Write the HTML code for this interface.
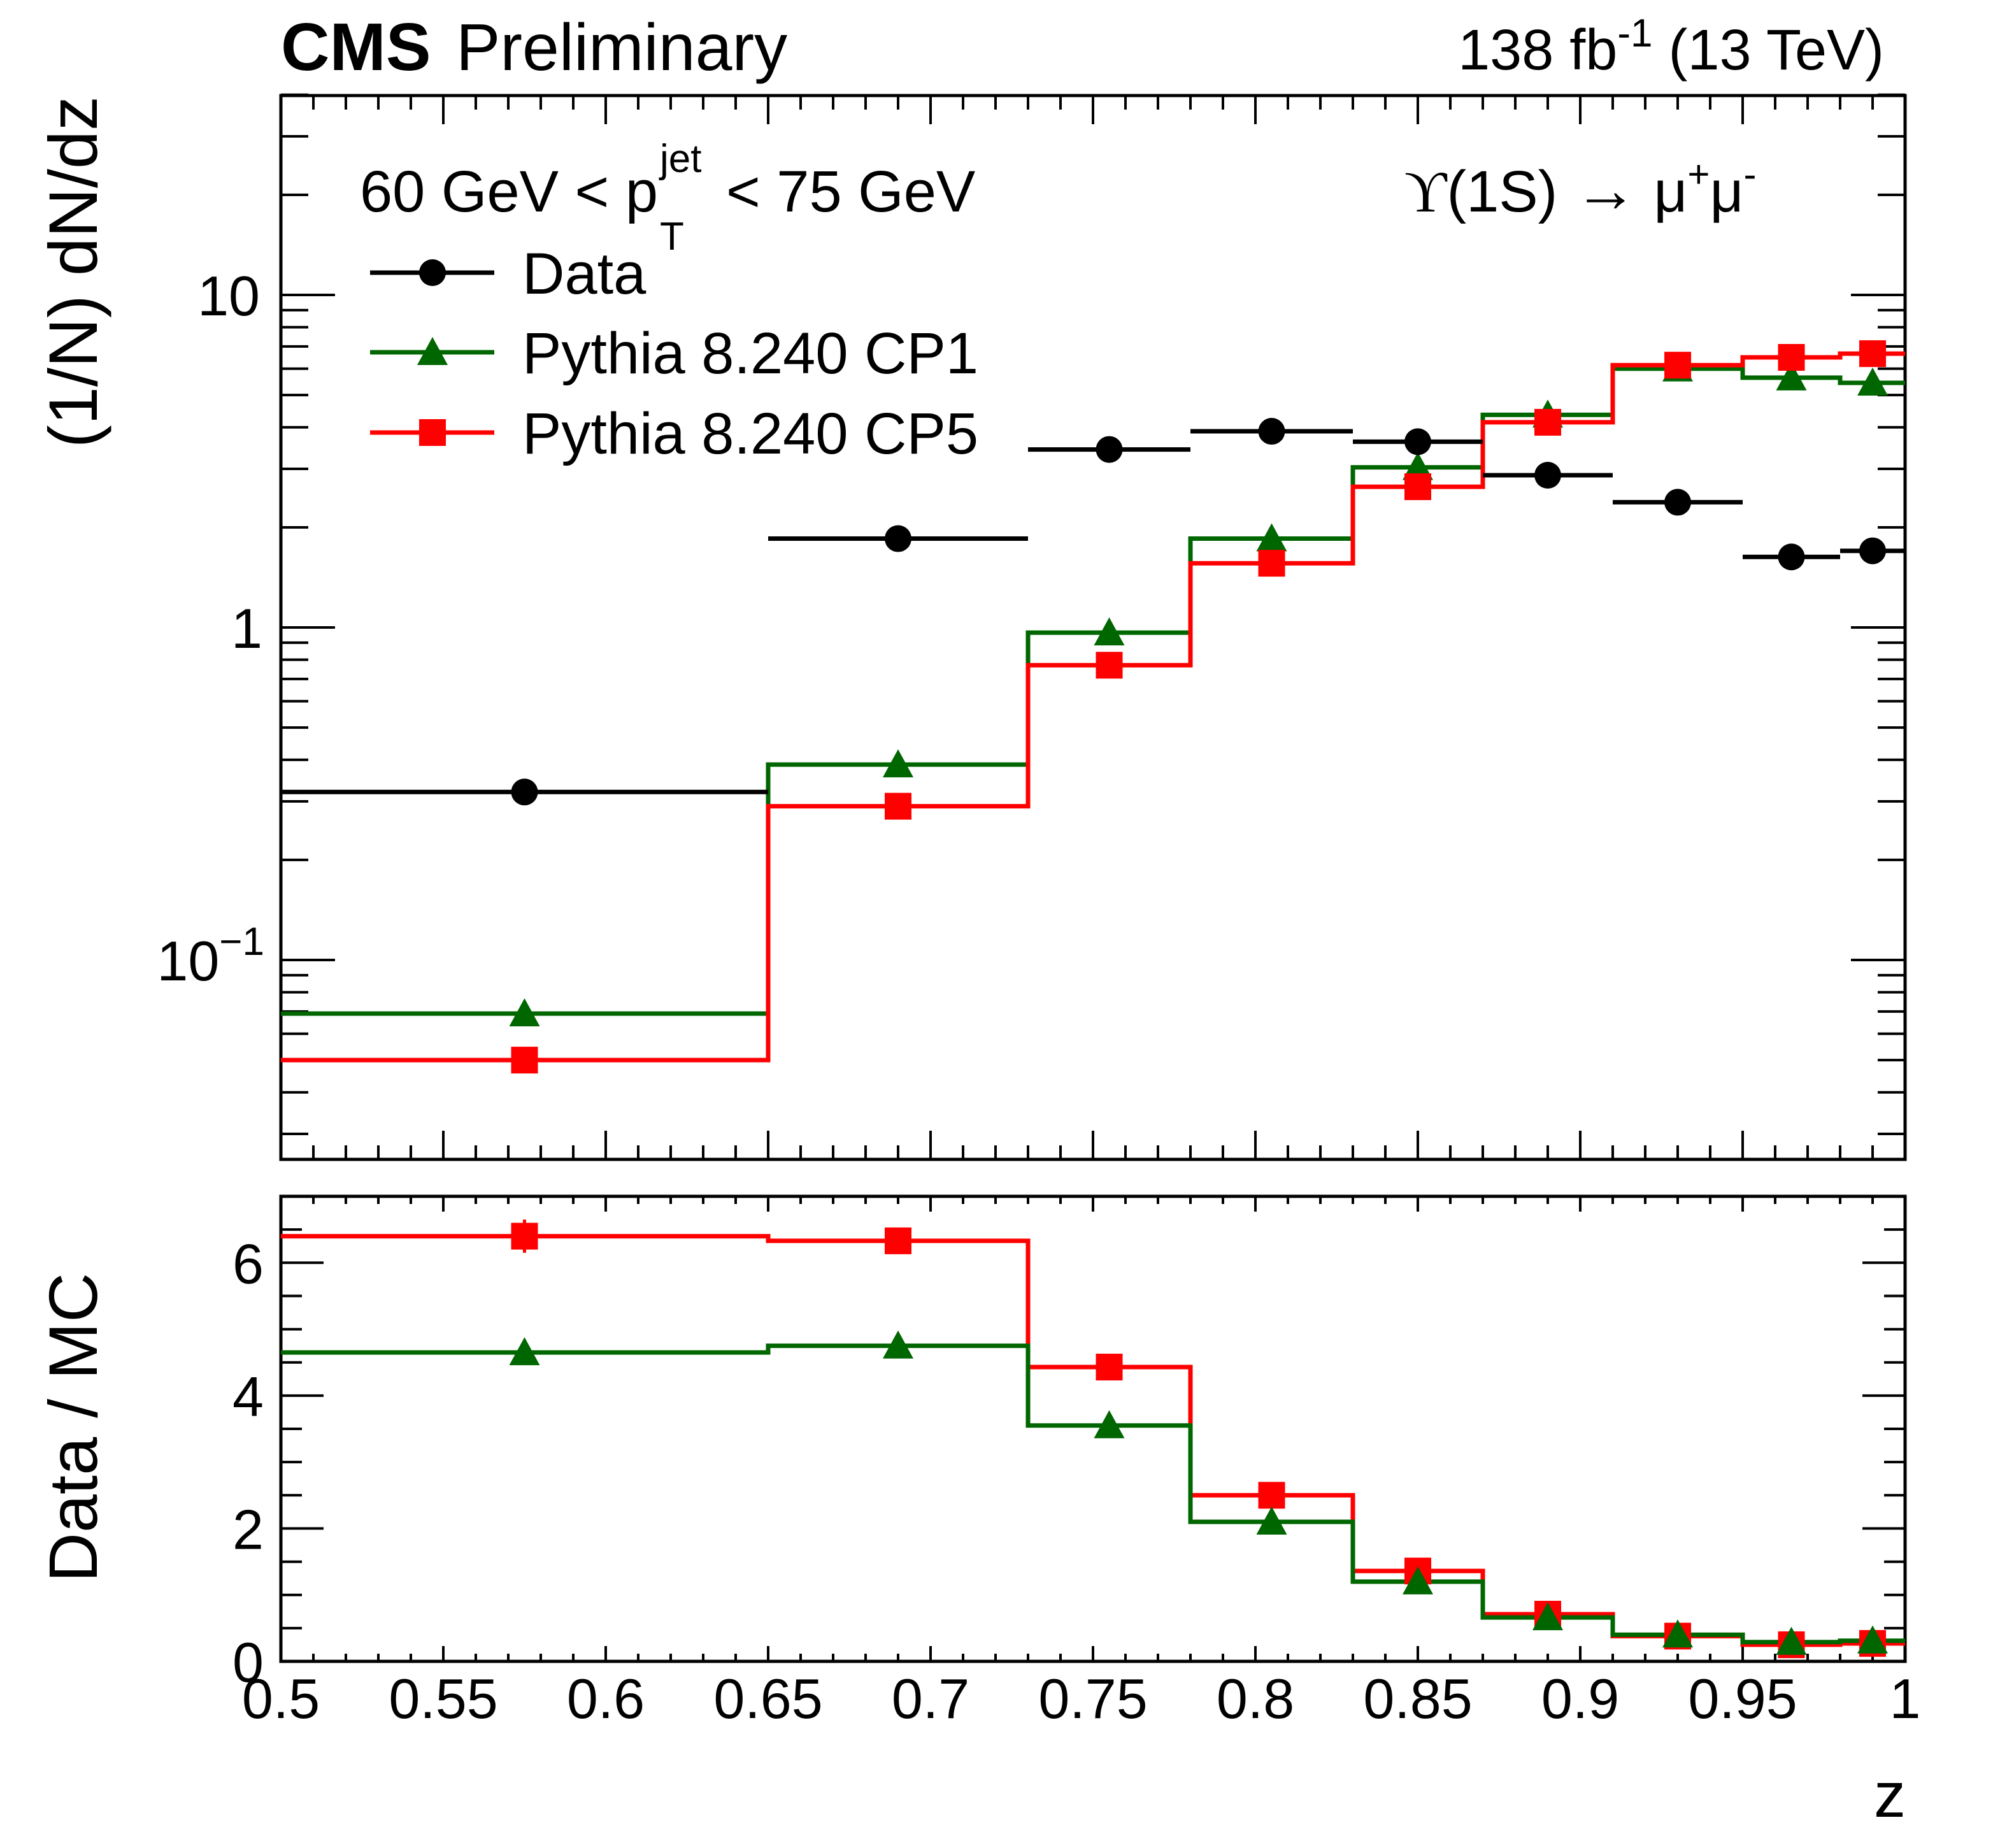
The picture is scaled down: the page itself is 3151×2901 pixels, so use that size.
<!DOCTYPE html>
<html>
<head>
<meta charset="utf-8">
<style>
html,body{margin:0;padding:0;background:#fff;}
svg{display:block;}
text{font-family:"Liberation Sans",Arial,sans-serif;fill:#000;}
</style>
</head>
<body>
<svg id="chart" width="3151" height="2901" viewBox="0 0 3151 2901" xmlns="http://www.w3.org/2000/svg">
  <rect x="0" y="0" width="3151" height="2901" fill="#fff"/>
  <text x="441" y="110" font-size="106" font-weight="bold">CMS</text>
  <text x="716" y="110" font-size="104">Preliminary</text>
  <text x="2958" y="109" font-size="90" text-anchor="end">138 fb<tspan dy="-36" font-size="62">-1</tspan><tspan dy="36"> (13 TeV)</tspan></text>
  <g>
    <text x="565" y="332" font-size="92">60 GeV &lt; p</text>
    <text x="1036" y="270" font-size="62">jet</text>
    <text x="1036" y="392" font-size="62">T</text>
    <text x="1140" y="332" font-size="92">&lt; 75 GeV</text>
  </g>
  <text x="2205" y="332" font-size="92"><tspan font-family="'Liberation Serif',serif">ϒ</tspan>(1S) <tspan font-size="100">→</tspan> μ<tspan dy="-38" font-size="60">+</tspan><tspan dy="38">μ</tspan><tspan dy="-38" font-size="60">-</tspan></text>
  <text transform="translate(152,151) rotate(-90)" font-size="108" text-anchor="end">(1/N) dN/dz</text>
  <text transform="translate(152,2484) rotate(-90)" font-size="108" text-anchor="start">Data / MC</text>
  <text x="2992" y="2852" font-size="100" text-anchor="end">z</text>
  <g id="upper"></g>
  <g id="lower"></g>
  <g id="legend"></g>
</svg>
<script>
// ---- data ----
const binEdges = [0.5, 0.65, 0.73, 0.78, 0.83, 0.87, 0.91, 0.95, 0.98, 1.0];
const binCenters = [0.575, 0.69, 0.755, 0.805, 0.85, 0.89, 0.93, 0.965, 0.99];
const dataValues = [0.32, 1.85, 3.43, 3.89, 3.62, 2.87, 2.38, 1.63, 1.70];
const cp1Values = [0.069, 0.387, 0.965, 1.85, 3.03, 4.36, 6.0, 5.64, 5.44];
const cp5Values = [0.050, 0.29, 0.77, 1.56, 2.65, 4.14, 6.15, 6.49, 6.66];
const ratioCp1 = [4.65, 4.75, 3.55, 2.10, 1.20, 0.66, 0.40, 0.29, 0.31];
const ratioCp5 = [6.40, 6.33, 4.43, 2.50, 1.36, 0.71, 0.38, 0.25, 0.27];
const ratioCp5Err = [0.25, 0.12, 0.12, 0.08, 0.05, 0.04, 0.03, 0.03, 0.04];
const ratioCp1Err = [0.18, 0.09, 0.09, 0.06, 0.04, 0.03, 0.02, 0.02, 0.03];
const xTickLabels = ["0.5","0.55","0.6","0.65","0.7","0.75","0.8","0.85","0.9","0.95","1"];
const ratioTickLabels = ["0","2","4","6"];

// ---- geometry ----
const L = 441, R = 2991;
const UT = 150, UB = 1820;
const LT = 1878, LB = 2608;
const NS = "http://www.w3.org/2000/svg";
const X = v => L + (v - 0.5) / 0.5 * (R - L);
const YU = v => 985 - 522 * Math.log10(v);
const YL = v => LB - (v / 7) * (LB - LT);
const GREEN = "#006600", RED = "#ff0000";
const LW = 7;

function mk(parent, tag, attrs) {
  const e = document.createElementNS(NS, tag);
  for (const k in attrs) e.setAttribute(k, attrs[k]);
  parent.appendChild(e);
  return e;
}
const up = document.getElementById('upper');
const lo = document.getElementById('lower');
const lg = document.getElementById('legend');

function frame(g, top, bot, name) {
  const r = mk(g, 'rect', {x: L, y: top, width: R - L, height: bot - top, fill: 'none', stroke: '#000', 'stroke-width': 5});
  
  
}
function xTicks(g, top, bot, majLen, minLen, name) {
  for (let i = 0; i <= 50; i++) {
    const v = 0.5 + i * 0.01;
    const x = X(v);
    const len = (i % 5 === 0) ? majLen : minLen;
    const t = mk(g, 'path', {d: `M${x},${bot}V${bot - len}M${x},${top}V${top + len}`, stroke: '#000', 'stroke-width': 4});
    
    
  }
}
function stepPath(vals, Y) {
  let d = '';
  for (let i = 0; i < vals.length; i++) {
    const y = Y(vals[i]);
    d += (i === 0 ? `M${X(binEdges[0])},${y}` : `V${y}`) + `H${X(binEdges[i + 1])}`;
  }
  return d;
}
function marker(g, type, cx, cy, color, name) {
  let e;
  if (type === 'circle') e = mk(g, 'circle', {cx, cy, r: 21, fill: color});
  else if (type === 'square') e = mk(g, 'rect', {x: cx - 21, y: cy - 21, width: 42, height: 42, fill: color});
  else e = mk(g, 'path', {d: `M${cx},${cy - 24}L${cx + 24},${cy + 20}L${cx - 24},${cy + 20}Z`, fill: color});
  
  
}

// ---- upper panel ----
frame(up, UT, UB, 'upper-frame');
xTicks(up, UT, UB, 45, 22, 'upper-x-tick');
for (let dec = -2; dec <= 1; dec++) {
  for (let m = 1; m <= 9; m++) {
    const v = m * Math.pow(10, dec);
    if (v < 0.025 || v > 40) continue;
    const y = YU(v);
    const len = m === 1 ? 85 : 43;
    const t = mk(up, 'path', {d: `M${L},${y}H${L + len}M${R},${y}H${R - len}`, stroke: '#000', 'stroke-width': 4});
    
    
  }
}
let tl = mk(up, 'text', {x: 408, y: YU(10) + 32, 'font-size': 88, 'text-anchor': 'end'});
tl.textContent = '10';


tl = mk(up, 'text', {x: 412, y: YU(1) + 32, 'font-size': 88, 'text-anchor': 'end'});
tl.textContent = '1';


tl = mk(up, 'text', {x: 415, y: YU(0.1) + 32, 'font-size': 88, 'text-anchor': 'end'});
tl.innerHTML = '10<tspan dy="-40" font-size="62">−1</tspan>';



let p = mk(up, 'path', {d: stepPath(cp1Values, YU), fill: 'none', stroke: GREEN, 'stroke-width': LW});


p = mk(up, 'path', {d: stepPath(cp5Values, YU), fill: 'none', stroke: RED, 'stroke-width': LW});


binCenters.forEach((c, i) => {
  marker(up, 'triangle', X(c), YU(cp1Values[i]), GREEN, 'cp1-marker');
  marker(up, 'square', X(c), YU(cp5Values[i]), RED, 'cp5-marker');
});
binCenters.forEach((c, i) => {
  const y = YU(dataValues[i]);
  const e = mk(up, 'path', {d: `M${X(binEdges[i])},${y}H${X(binEdges[i + 1])}`, stroke: '#000', 'stroke-width': LW});
  
  
  marker(up, 'circle', X(c), y, '#000', 'data-point');
});

// ---- lower panel ----
frame(lo, LT, LB, 'ratio-frame');
xTicks(lo, LT, LB, 24, 12, 'ratio-x-tick');
for (let i = 0; i <= 14; i++) {
  const v = i * 0.5;
  const y = YL(v);
  const len = (i % 4 === 0) ? 67 : 33;
  const t = mk(lo, 'path', {d: `M${L},${y}H${L + len}M${R},${y}H${R - len}`, stroke: '#000', 'stroke-width': 4});
  
  
}
ratioTickLabels.forEach(s => {
  const t = mk(lo, 'text', {x: 414, y: YL(parseFloat(s)) + 32, 'font-size': 88, 'text-anchor': 'end'});
  t.textContent = s;
  
  
});
xTickLabels.forEach(s => {
  const t = mk(lo, 'text', {x: X(parseFloat(s)), y: 2697, 'font-size': 88, 'text-anchor': 'middle'});
  t.textContent = s;
  
  
});
p = mk(lo, 'path', {d: stepPath(ratioCp5, YL), fill: 'none', stroke: RED, 'stroke-width': LW});


p = mk(lo, 'path', {d: stepPath(ratioCp1, YL), fill: 'none', stroke: GREEN, 'stroke-width': LW});


binCenters.forEach((c, i) => {
  const x = X(c);
  let e = mk(lo, 'path', {d: `M${x},${YL(ratioCp5[i] - ratioCp5Err[i])}V${YL(ratioCp5[i] + ratioCp5Err[i])}`, stroke: RED, 'stroke-width': 5});
  
  
  marker(lo, 'square', x, YL(ratioCp5[i]), RED, 'ratio-cp5-marker');
  e = mk(lo, 'path', {d: `M${x},${YL(ratioCp1[i] - ratioCp1Err[i])}V${YL(ratioCp1[i] + ratioCp1Err[i])}`, stroke: GREEN, 'stroke-width': 5});
  
  
  marker(lo, 'triangle', x, YL(ratioCp1[i]), GREEN, 'ratio-cp1-marker');
});

// ---- legend ----
const legendLabels = ["Data", "Pythia 8.240 CP1", "Pythia 8.240 CP5"];
const legendColors = ["#000", GREEN, RED];
const legendMarkers = ["circle", "triangle", "square"];
const legendYs = [428, 553, 679];
legendLabels.forEach((s, i) => {
  const y = legendYs[i];
  const ln = mk(lg, 'path', {d: `M581,${y}H776`, stroke: legendColors[i], 'stroke-width': LW});
  
  
  marker(lg, legendMarkers[i], 679, y, legendColors[i], 'legend-marker');
  const t = mk(lg, 'text', {x: 820, y: y + 33, 'font-size': 92});
  t.textContent = s;
  
  
});
</script>
</body>
</html>
